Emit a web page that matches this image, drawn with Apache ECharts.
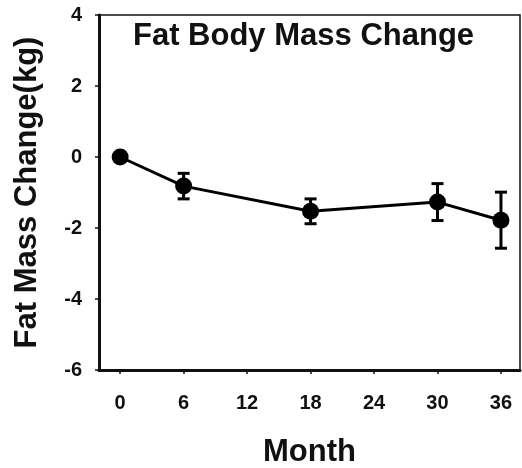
<!DOCTYPE html>
<html>
<head>
<meta charset="utf-8">
<script src="https://cdn.jsdelivr.net/npm/echarts@6/dist/echarts.min.js"></script>
<style>html,body{margin:0;padding:0;background:#fff}#c{width:522px;height:468px}</style>
</head>
<body>
<div id="c"></div>
<script>
var months = [0, 6, 18, 30, 36];
var fatChange = [0, -0.82, -1.53, -1.27, -1.78];
var fatError = [0, 0.36, 0.35, 0.52, 0.79];
var xTicks = [0, 6, 12, 18, 24, 30, 36];
var yTicks = [-6, -4, -2, 0, 2, 4];

var FONT = '"Liberation Sans", Arial, Helvetica, sans-serif';
var chart = echarts.init(document.getElementById('c'));
var lineData = months.map(function (m, i) { return [m, fatChange[i]]; });
var errData = months.map(function (m, i) { return [m, fatChange[i] - fatError[i], fatChange[i] + fatError[i]]; });

chart.setOption({
  animation: false,
  backgroundColor: '#fff',
  title: {
    text: 'Fat Body Mass Change',
    left: 128, top: 16,
    textStyle: { fontFamily: FONT, fontWeight: 'bold', fontSize: 31, color: '#111' }
  },
  grid: { left: 99, top: 15, right: 2, bottom: 98, outerBoundsMode: 'none', containLabel: false, show: true, borderColor: '#111', borderWidth: 1.5, backgroundColor: '#fff' },
  xAxis: {
    type: 'value', min: -2, max: 37.8,
    name: 'Month', nameLocation: 'middle', nameGap: 67,
    nameTextStyle: { fontFamily: FONT, fontWeight: 'bold', fontSize: 31, color: '#111' },
    axisLine: { show: true, onZero: false, lineStyle: { color: '#111', width: 3 } },
    axisTick: { show: true, length: 4, customValues: xTicks, lineStyle: { color: '#111', width: 1.5 } },
    axisLabel: { customValues: xTicks, margin: 23, fontFamily: FONT, fontWeight: 'bold', fontSize: 20, color: '#111' },
    splitLine: { show: false }
  },
  yAxis: {
    type: 'value', min: -6, max: 4, interval: 2,
    name: 'Fat Mass Change(kg)', nameLocation: 'middle', nameGap: 56,
    nameTextStyle: { fontFamily: FONT, fontWeight: 'bold', fontSize: 31, color: '#111' },
    axisLine: { show: true, onZero: false, lineStyle: { color: '#111', width: 3 } },
    axisTick: { show: true, length: 4, lineStyle: { color: '#111', width: 1.5 } },
    axisLabel: { margin: 17, fontFamily: FONT, fontWeight: 'bold', fontSize: 20, color: '#111' },
    splitLine: { show: false }
  },
  series: [
    {
      type: 'custom',
      data: errData,
      z: 3,
      renderItem: function (params, api) {
        var x = api.value(0);
        var lo = api.coord([x, api.value(1)]);
        var hi = api.coord([x, api.value(2)]);
        var hw = 6;
        var st = { stroke: '#000', lineWidth: 3 };
        return {
          type: 'group',
          children: [
            { type: 'line', shape: { x1: lo[0], y1: lo[1], x2: hi[0], y2: hi[1] }, style: st },
            { type: 'line', shape: { x1: lo[0] - hw, y1: lo[1], x2: lo[0] + hw, y2: lo[1] }, style: st },
            { type: 'line', shape: { x1: hi[0] - hw, y1: hi[1], x2: hi[0] + hw, y2: hi[1] }, style: st }
          ]
        };
      }
    },
    {
      type: 'line',
      data: lineData,
      z: 4,
      symbol: 'circle', symbolSize: 17,
      lineStyle: { color: '#000', width: 3 },
      itemStyle: { color: '#000' }
    }
  ]
});
</script>
</body>
</html>
